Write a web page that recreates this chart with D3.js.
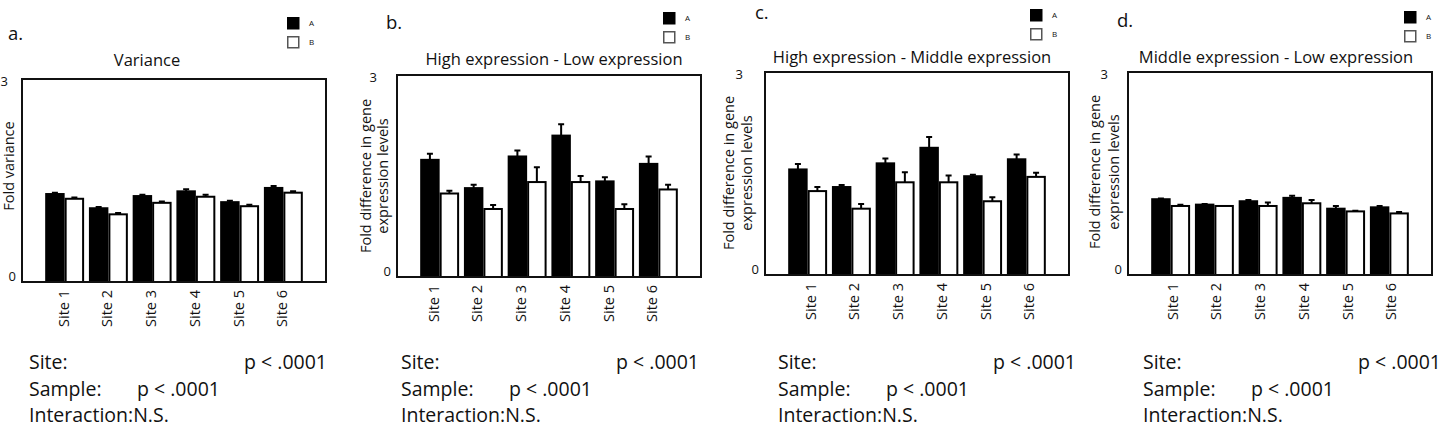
<!DOCTYPE html>
<html>
  <head>
    <meta charset="utf-8">
    <title>fold differences by site</title>
    <style>
      body { margin: 0; background: #fff; }
      svg text { font-family: "Open Sans", "Noto Sans", sans-serif; fill: #111; }
    </style>
  </head>
  <body>
    <div id="container"></div>
    <script src="https://cdn.jsdelivr.net/npm/d3@7"></script>
    <script>
      // ---- data ----
      var sites = ["Site 1", "Site 2", "Site 3", "Site 4", "Site 5", "Site 6"];
      var samples = ["A", "B"];
      var yTicks = [0, 3];
      var panelLetters = ["a.", "b.", "c.", "d."];
      var panelTitles = ["Variance", "High expression - Low expression",
                         "High expression - Middle expression", "Middle expression - Low expression"];
      var yLabels = [["Fold  variance"],
                     ["Fold difference in gene", "expression levels"],
                     ["Fold difference in gene", "expression levels"],
                     ["Fold difference in gene", "expression levels"]];

      var varianceA    = [1.30, 1.09, 1.27, 1.34, 1.18, 1.39];
      var varianceB    = [1.23, 1.00, 1.17, 1.26, 1.12, 1.32];
      var varianceErrA = [0.02, 0.02, 0.02, 0.03, 0.02, 0.03];
      var varianceErrB = [0.02, 0.02, 0.02, 0.03, 0.02, 0.02];

      var highLowA    = [1.74, 1.32, 1.79, 2.10, 1.42, 1.68];
      var highLowB    = [1.24, 1.01, 1.41, 1.41, 1.01, 1.30];
      var highLowErrA = [0.09, 0.05, 0.09, 0.17, 0.06, 0.11];
      var highLowErrB = [0.04, 0.06, 0.22, 0.09, 0.07, 0.07];

      var highMidA    = [1.56, 1.30, 1.65, 1.88, 1.46, 1.71];
      var highMidB    = [1.24, 0.98, 1.37, 1.37, 1.09, 1.45];
      var highMidErrA = [0.08, 0.03, 0.07, 0.16, 0.02, 0.07];
      var highMidErrB = [0.06, 0.07, 0.15, 0.10, 0.06, 0.06];

      var midLowA    = [1.12, 1.04, 1.09, 1.14, 0.98, 1.00];
      var midLowB    = [1.02, 1.02, 1.02, 1.06, 0.94, 0.91];
      var midLowErrA = [0.01, 0.01, 0.02, 0.03, 0.04, 0.02];
      var midLowErrB = [0.02, 0.00, 0.05, 0.05, 0.01, 0.02];

      var statLabels = ["Site:", "Sample:", "Interaction:N.S."];
      var statValues = ["p < .0001", "p < .0001", ""];

      var panelValues = [[varianceA, varianceB], [highLowA, highLowB], [highMidA, highMidB], [midLowA, midLowB]];
      var panelErrors = [[varianceErrA, varianceErrB], [highLowErrA, highLowErrB], [highMidErrA, highMidErrB], [midLowErrA, midLowErrB]];

      // ---- layout of each panel (pixels) ----
      var panels = [
        {left: 22,  right: 326,  top: 79, bottom: 282, letter: [8, 40],    title: [147, 66],   legend: [287, 17],  ylab: [-8, 166],  ylabGap: 17, tickDx: -1, topTick: 14, stats: 29},
        {left: 397, right: 701,  top: 75, bottom: 277, letter: [386, 29],  title: [554, 65],   legend: [663, 12],  ylab: [-9, 176],  ylabGap: 17, tickDx: -6, topTick: 20, stats: 401},
        {left: 765, right: 1069, top: 72, bottom: 275, letter: [755, 19],  title: [912, 63],   legend: [1030, 9],  ylab: [-13, 173], ylabGap: 18, tickDx: 3,  topTick: 22, stats: 778},
        {left: 1128, right: 1432, top: 72, bottom: 275, letter: [1117, 27], title: [1276, 63], legend: [1404, 11], ylab: [-9, 172],  ylabGap: 19, tickDx: 2,  topTick: 20, stats: 1143}
      ];

      var svg = d3.select("#container").append("svg")
        .attr("width", 1449)
        .attr("height", 434);

      panels.forEach(function(p, pi) {
        var g = svg.append("g");

        var x0 = d3.scaleBand().domain(sites).range([p.left, p.right])
          .paddingInner(0.11).paddingOuter(0.53);
        var x1 = d3.scaleBand().domain(samples).range([0, x0.bandwidth()]);
        var y = d3.scaleLinear().domain([0, 3]).range([p.bottom, p.top]);

        // bars
        samples.forEach(function(s, si) {
          var vals = panelValues[pi][si];
          var errs = panelErrors[pi][si];
          var rows = sites.map(function(site, i) { return {site: site, v: vals[i], e: errs[i]}; });

          // error bars first, bar outline covers the base
          g.selectAll(".err" + s)
            .data(rows)
          .enter().append("path")
            .attr("d", function(d) {
              var cx = x0(d.site) + x1(s) + x1.bandwidth() / 2;
              var yt = y(d.v + d.e);
              return "M" + cx + "," + y(d.v) + "V" + yt + "M" + (cx - 3) + "," + yt + "H" + (cx + 3);
            })
            .attr("stroke", "#000")
            .attr("stroke-width", 2)
            .attr("fill", "none");

          g.selectAll(".bar" + s)
            .data(rows)
          .enter().append("rect")
            .attr("x", function(d) { return x0(d.site) + x1(s) + 1; })
            .attr("y", function(d) { return y(d.v); })
            .attr("width", x1.bandwidth() - 2)
            .attr("height", function(d) { return y(0) - y(d.v); })
            .attr("fill", s == "A" ? "#000" : "#fff")
            .attr("stroke", "#000")
            .attr("stroke-width", 2);
        });

        // frame
        g.append("rect")
          .attr("x", p.left).attr("y", p.top)
          .attr("width", p.right - p.left).attr("height", p.bottom - p.top)
          .attr("fill", "none").attr("stroke", "#111").attr("stroke-width", 2);

        // y tick labels
        g.selectAll(".ytick")
          .data(yTicks)
        .enter().append("text")
          .attr("x", function(d) { return d == 0 ? p.left - 6 : p.left - p.topTick; })
          .attr("y", function(d) { return d == 0 ? y(d) - 1 : y(d) + 7; })
          .attr("text-anchor", "end")
          .attr("font-size", 13)
          .text(function(d) { return d; });

        // x tick labels
        g.selectAll(".xtick")
          .data(sites)
        .enter().append("text")
          .attr("transform", function(d) {
            return "translate(" + (x0(d) + x0.bandwidth() / 2 + p.tickDx + 5) + "," + (p.bottom + 8) + ") rotate(-90)";
          })
          .attr("text-anchor", "end")
          .attr("font-size", 14.5)
          .text(function(d) { return d; });

        // y axis label
        var lines = yLabels[pi];
        lines.forEach(function(t, li) {
          var bx = p.left + p.ylab[0] - (lines.length - 1 - li) * p.ylabGap;
          g.append("text")
            .attr("transform", "translate(" + bx + "," + p.ylab[1] + ") rotate(-90)")
            .attr("text-anchor", "middle")
            .attr("font-size", 14.5)
            .text(t);
        });

        // title + panel letter
        g.append("text")
          .attr("x", p.title[0]).attr("y", p.title[1])
          .attr("text-anchor", "middle")
          .attr("font-size", 16.5)
          .text(panelTitles[pi]);
        g.append("text")
          .attr("x", p.letter[0]).attr("y", p.letter[1])
          .attr("font-size", 18.5)
          .text(panelLetters[pi]);

        // legend
        samples.forEach(function(s, si) {
          g.append("rect")
            .attr("x", p.legend[0] + 0.75).attr("y", p.legend[1] + si * 19 + 0.75)
            .attr("width", 11).attr("height", 11)
            .attr("fill", s == "A" ? "#000" : "#fff")
            .attr("stroke", s == "A" ? "#000" : "#555")
            .attr("stroke-width", 1.5);
          g.append("text")
            .attr("x", p.legend[0] + 22).attr("y", p.legend[1] + si * 19 + 9)
            .attr("font-size", 8)
            .attr("fill", "#333")
            .text(s);
        });

        // statistics
        statLabels.forEach(function(t, i) {
          g.append("text")
            .attr("x", p.stats).attr("y", 369 + i * 26.5)
            .attr("font-size", 19.5)
            .text(t);
        });
        g.append("text")
          .attr("x", p.stats + 298).attr("y", 369)
          .attr("text-anchor", "end")
          .attr("font-size", 19.5)
          .text(statValues[0]);
        g.append("text")
          .attr("x", p.stats + 108).attr("y", 369 + 26.5)
          .attr("font-size", 19.5)
          .text(statValues[1]);
      });
    </script>
  </body>
</html>
